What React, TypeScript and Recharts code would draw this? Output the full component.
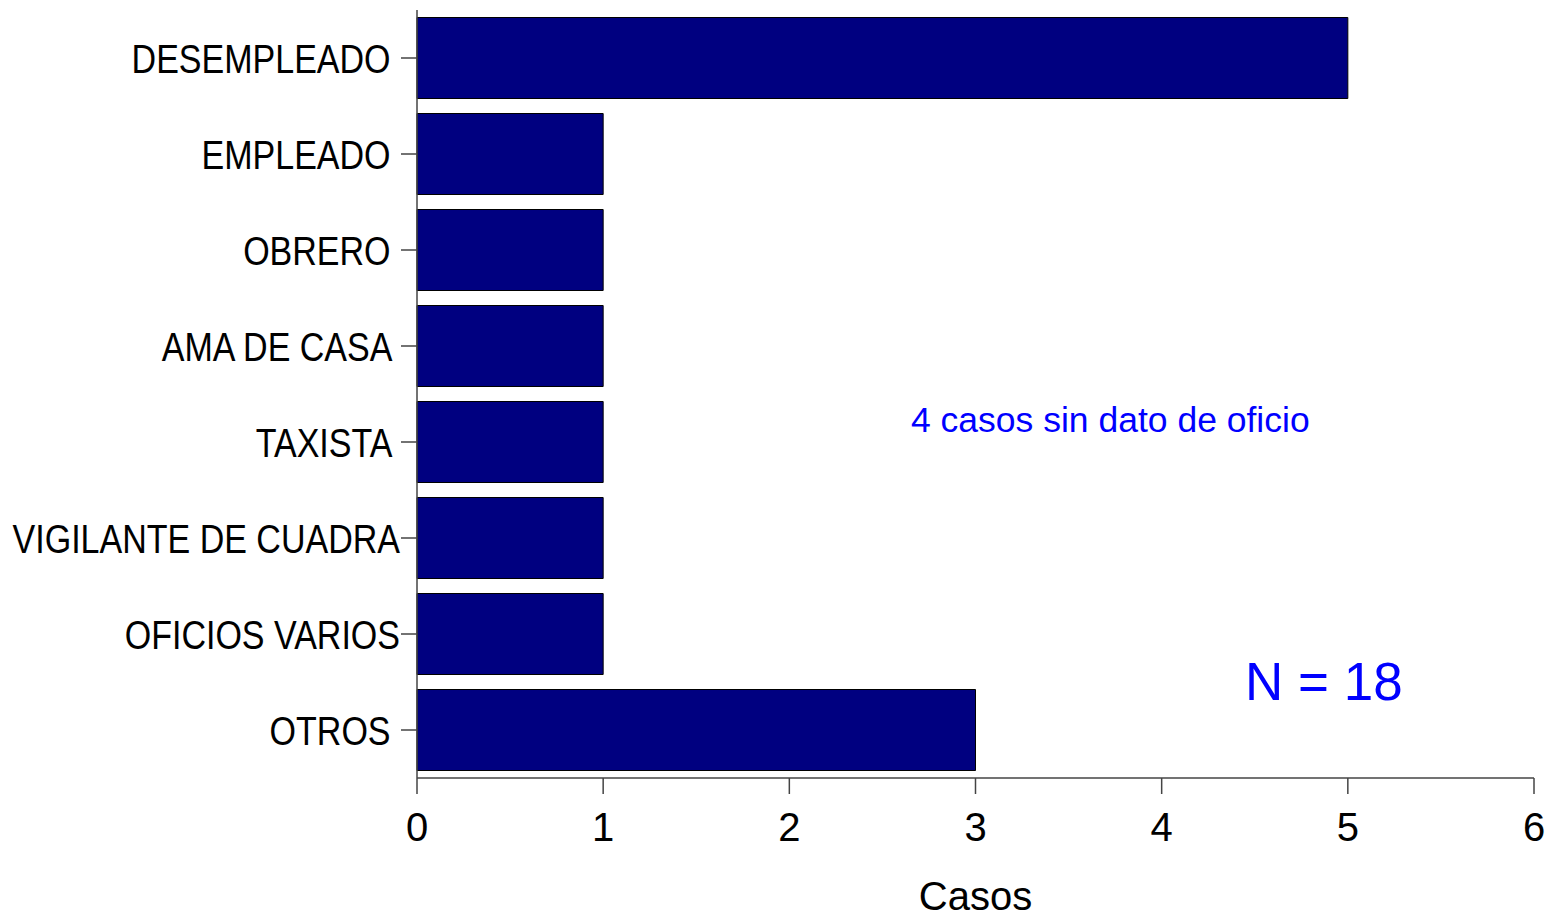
import React from 'react';
import { BarChart, Bar, XAxis, YAxis } from 'recharts';

// labels as in the source (short ones carry a trailing blank)
const oficios = [
  'DESEMPLEADO ',
  'EMPLEADO ',
  'OBRERO ',
  'AMA DE CASA ',
  'TAXISTA ',
  'VIGILANTE DE CUADRA',
  'OFICIOS VARIOS',
  'OTROS ',
];
const casos = [5, 1, 1, 1, 1, 1, 1, 3];
const xTicks = [0, 1, 2, 3, 4, 5, 6];
const nota = '4 casos sin dato de oficio';
const total = 'N = 18';

const W = 1549;
const H = 919;
const axisColor = '#444';
const sans = "'Liberation Sans', Arial, sans-serif";

// narrow labels: regular face squeezed horizontally (no Arial Narrow here)
function CategoryTick(props: any) {
  const { x, y, payload } = props;
  return (
    <g transform={`translate(${x},${y}) scale(0.83,1)`}>
      <text
        x={0}
        y={0}
        dy="0.355em"
        textAnchor="end"
        fill="#000"
        style={{ fontFamily: sans, fontSize: 41, whiteSpace: 'pre' }}
      >
        {payload.value}
      </text>
    </g>
  );
}

export default function App() {
  const data = oficios.map((o, i) => ({ oficio: o, casos: casos[i] }));
  return (
    <div style={{ position: 'absolute', left: 0, top: 0, width: W, height: H, background: '#fff' }}>
      <BarChart
        width={W}
        height={H}
        data={data}
        layout="vertical"
        margin={{ top: 10, right: 15, bottom: 0, left: 0 }}
        barCategoryGap={7.5}
      >
        <XAxis
          type="number"
          domain={[0, 6]}
          ticks={xTicks}
          interval={0}
          height={141}
          tickSize={16}
          tickMargin={19}
          axisLine={{ stroke: axisColor, strokeWidth: 1.5 }}
          tickLine={{ stroke: axisColor, strokeWidth: 1.5 }}
          tick={{ fill: '#000', fontSize: 40, fontFamily: sans }}
          label={{
            value: 'Casos',
            position: 'insideBottom',
            offset: 9,
            fill: '#000',
            fontSize: 40,
            fontFamily: sans,
          }}
        />
        <YAxis
          type="category"
          dataKey="oficio"
          width={417}
          tickSize={16}
          tickMargin={1}
          interval={0}
          axisLine={{ stroke: axisColor, strokeWidth: 1.5 }}
          tickLine={{ stroke: axisColor, strokeWidth: 1.5 }}
          tick={<CategoryTick />}
        />
        <Bar dataKey="casos" fill="#000080" stroke="#000" strokeWidth={1} isAnimationActive={false} />
      </BarChart>
      <svg width={W} height={H} style={{ position: 'absolute', left: 0, top: 0, pointerEvents: 'none' }}>
        <text x={911} y={432} fill="#0000ff" style={{ fontFamily: sans, fontSize: 35.5 }}>
          {nota}
        </text>
        <text x={1245} y={700} fill="#0000ff" style={{ fontFamily: sans, fontSize: 53 }}>
          {total}
        </text>
      </svg>
    </div>
  );
}
